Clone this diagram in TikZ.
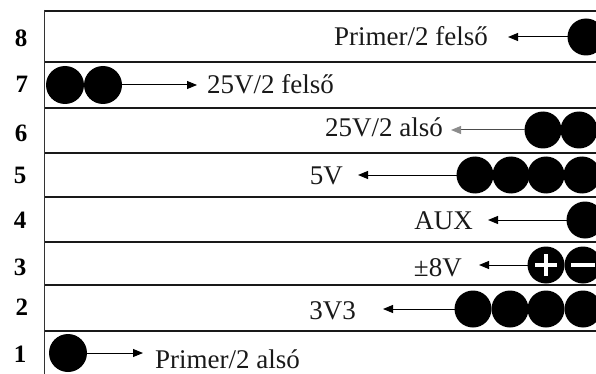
\documentclass[tikz,border=0pt]{standalone}
\usepackage{fontspec}
\setmainfont{Liberation Serif}
\usetikzlibrary{arrows.meta}
\begin{document}
\begin{tikzpicture}[x=1pt,y=-1pt,
 rowline/.style={line width=2.4pt,black!90},
 dot/.style={circle,fill=black,minimum size=37pt,inner sep=0pt,outer sep=0pt},
 lbl/.style={inner sep=0pt,font=\fontsize{27}{30}\selectfont,text=black!90},
 num/.style={inner sep=0pt,font=\fontsize{25}{28}\selectfont\bfseries},
 arr/.style={line width=1pt,-{Triangle[length=10pt,width=8pt]}},
 grayarr/.style={line width=1pt,black!70,-{Triangle[length=10pt,width=8pt,color=black!45]}},
 sym/.style={white,line width=4pt}]
\useasboundingbox (0,0) rectangle (596,374);
\begin{scope}
\clip (0,0) rectangle (596,374);
% row lines
\foreach \yy in {11,62,108,153,197,242,285,331}
  \draw[rowline] (44,\yy) -- (600,\yy);
\draw[line width=1.5pt,black!80] (44.5,10) -- (44.5,376);

% row numbers
\node[num,anchor=base] (n8) at (21,47) {8};
\node[num,anchor=base] (n7) at (22,93) {7};
\node[num,anchor=base] (n6) at (21,142) {6};
\node[num,anchor=base] (n5) at (20,183) {5};
\node[num,anchor=base] (n4) at (20,228) {4};
\node[num,anchor=base] (n3) at (20,275) {3};
\node[num,anchor=base] (n2) at (22,315) {2};
\node[num,anchor=base] (n1) at (20,362) {1};

% row 8
\node[dot] (c8) at (586,37) {};
\coordinate (h8) at (508,37);
\node[lbl,anchor=base east] (t8) at (488,46) {Primer/2 felső};
\draw[arr] (c8) -- (h8);

% row 7
\node[dot,minimum size=38pt] (c7a) at (65,85) {};
\node[dot,minimum size=38pt] (c7b) at (103,85) {};
\coordinate (h7) at (197,85);
\node[lbl,anchor=base west] (t7) at (207,94) {25V/2 felső};
\draw[arr] (c7b) -- (h7);

% row 6
\node[dot] (c6a) at (543,130) {};
\node[dot] (c6b) at (579,130) {};
\coordinate (h6) at (451,130);
\node[lbl,anchor=base east] (t6) at (443,137) {25V/2 alsó};
\draw[grayarr] (c6a) -- (h6);

% row 5
\node[dot] (c5a) at (475,175) {};
\node[dot] (c5b) at (511,175) {};
\node[dot] (c5c) at (546,175) {};
\node[dot] (c5d) at (582,175) {};
\coordinate (h5) at (358,175);
\node[lbl,anchor=base east] (t5) at (343,184) {5V};
\draw[arr] (c5a) -- (h5);

% row 4
\node[dot] (c4) at (585,220) {};
\coordinate (h4) at (488,220);
\node[lbl,anchor=base east] (t4) at (473,229) {AUX};
\draw[arr] (c4) -- (h4);

% row 3
\node[dot] (c3a) at (546,265) {};
\node[dot] (c3b) at (583,265) {};
\coordinate (h3) at (479,265);
\node[lbl,anchor=base east] (t3) at (462,276) {±8V};
\draw[arr] (c3a) -- (h3);
\draw[sym] ([xshift=-11pt]c3a.center) -- ([xshift=11pt]c3a.center);
\draw[sym] ([yshift=-11pt]c3a.center) -- ([yshift=11pt]c3a.center);
\draw[sym] ([xshift=-12pt]c3b.center) -- ([xshift=12pt]c3b.center);

% row 2
\node[dot] (c2a) at (473,309) {};
\node[dot] (c2b) at (510,309) {};
\node[dot] (c2c) at (546,309) {};
\node[dot] (c2d) at (583,309) {};
\coordinate (h2) at (383,309);
\node[lbl,anchor=base east] (t2) at (356,319) {3V3};
\draw[arr] (c2a) -- (h2);

% row 1
\node[dot,minimum size=38pt] (c1) at (68,353) {};
\coordinate (h1) at (143,353);
\node[lbl,anchor=base west] (t1) at (155,368) {Primer/2 alsó};
\draw[arr] (c1) -- (h1);
\end{scope}
\end{tikzpicture}
\end{document}
